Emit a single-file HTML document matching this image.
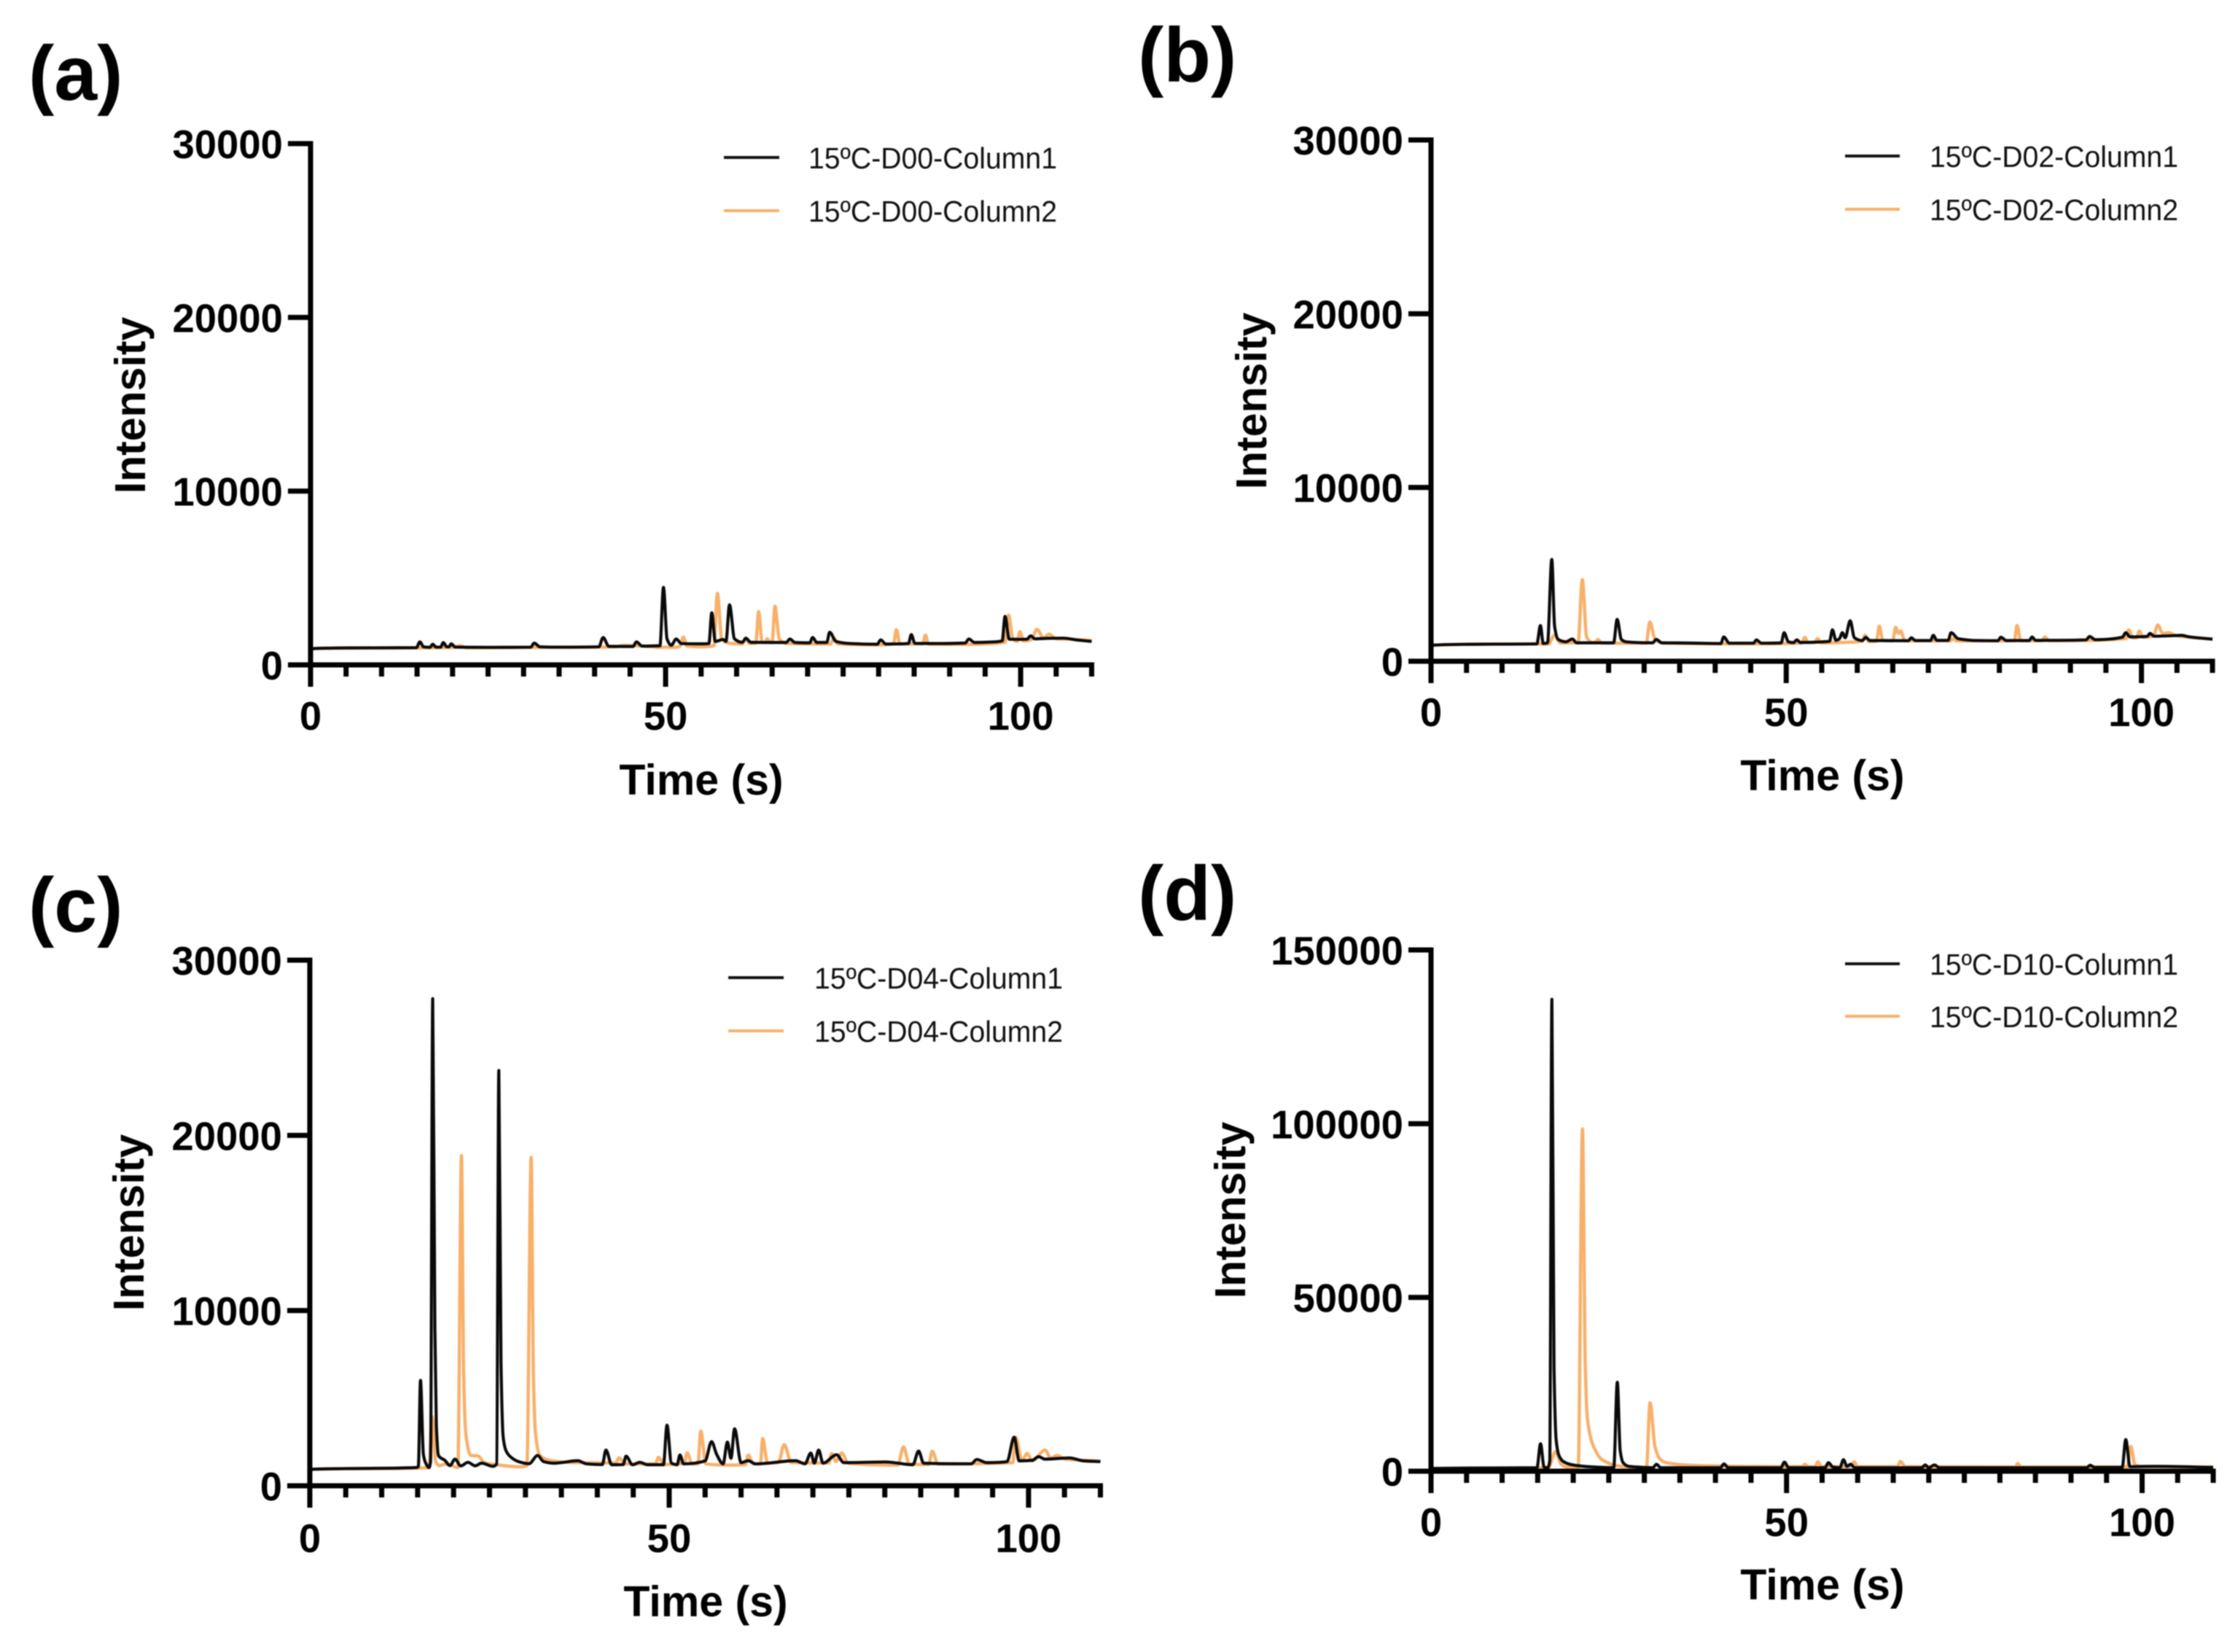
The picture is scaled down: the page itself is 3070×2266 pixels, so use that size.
<!DOCTYPE html>
<html lang="en">
<head>
<meta charset="utf-8">
<title>Chromatograms at 15ºC</title>
<style>
html,body{margin:0;padding:0;background:#fff;width:3070px;height:2266px;overflow:hidden}
svg{display:block;filter:blur(0.7px)}
text{font-family:"Liberation Sans",Arial,sans-serif;fill:#000}
.tick-label{font-size:54.5px;font-weight:700}
.axis-title{font-size:59px;font-weight:700;text-anchor:middle}
.panel-label{font-size:106px;font-weight:700}
.legend-text{font-size:41px;fill:#111}
</style>
</head>
<body>
<svg id="figure" xmlns="http://www.w3.org/2000/svg" width="3070" height="2266" viewBox="0 0 3070 2266">
  <rect width="3070" height="2266" fill="#fff"/>

  <g id="panel-a">
    <text class="panel-label" x="39" y="137">(a)</text>
    <text class="axis-title" transform="translate(199 556) rotate(-90)">Intensity</text>
    <text class="axis-title" x="962" y="1090">Time (s)</text>
    <line x1="993" x2="1069" y1="216" y2="216" stroke="#111" stroke-width="4"/>
    <text class="legend-text" x="1109" y="231" textLength="341" lengthAdjust="spacingAndGlyphs">15ºC-D00-Column1</text>
    <line x1="993" x2="1069" y1="289" y2="289" stroke="#f8b06a" stroke-width="4"/>
    <text class="legend-text" x="1109" y="304" textLength="341" lengthAdjust="spacingAndGlyphs">15ºC-D00-Column2</text>
  </g>

  <g id="panel-b">
    <text class="panel-label" x="1561" y="112">(b)</text>
    <text class="axis-title" transform="translate(1737 550) rotate(-90)">Intensity</text>
    <text class="axis-title" x="2500" y="1084">Time (s)</text>
    <line x1="2531" x2="2606" y1="214" y2="214" stroke="#111" stroke-width="4"/>
    <text class="legend-text" x="2647" y="229" textLength="341" lengthAdjust="spacingAndGlyphs">15ºC-D02-Column1</text>
    <line x1="2531" x2="2606" y1="287" y2="287" stroke="#f8b06a" stroke-width="4"/>
    <text class="legend-text" x="2647" y="302" textLength="341" lengthAdjust="spacingAndGlyphs">15ºC-D02-Column2</text>
  </g>

  <g id="panel-c">
    <text class="panel-label" x="39" y="1278">(c)</text>
    <text class="axis-title" transform="translate(197 1677) rotate(-90)">Intensity</text>
    <text class="axis-title" x="968" y="2217">Time (s)</text>
    <line x1="999" x2="1075" y1="1341" y2="1341" stroke="#111" stroke-width="4"/>
    <text class="legend-text" x="1117" y="1356" textLength="341" lengthAdjust="spacingAndGlyphs">15ºC-D04-Column1</text>
    <line x1="999" x2="1075" y1="1414" y2="1414" stroke="#f8b06a" stroke-width="4"/>
    <text class="legend-text" x="1117" y="1429" textLength="341" lengthAdjust="spacingAndGlyphs">15ºC-D04-Column2</text>
  </g>

  <g id="panel-d">
    <text class="panel-label" x="1561" y="1262">(d)</text>
    <text class="axis-title" transform="translate(1708 1660) rotate(-90)">Intensity</text>
    <text class="axis-title" x="2500" y="2194">Time (s)</text>
    <line x1="2531" x2="2606" y1="1322" y2="1322" stroke="#111" stroke-width="4"/>
    <text class="legend-text" x="2647" y="1337" textLength="341" lengthAdjust="spacingAndGlyphs">15ºC-D10-Column1</text>
    <line x1="2531" x2="2606" y1="1394" y2="1394" stroke="#f8b06a" stroke-width="4"/>
    <text class="legend-text" x="2647" y="1409" textLength="341" lengthAdjust="spacingAndGlyphs">15ºC-D10-Column2</text>
  </g>
</svg>

<script>
// Tick values and labels
const xMajorTicks = [0, 50, 100];
const xMinorTicks = [5, 10, 15, 20, 25, 30, 35, 40, 45, 55, 60, 65, 70, 75, 80, 85, 90, 95, 105, 110];
const yTicksLow = [0, 10000, 20000, 30000];
const yTicksHigh = [0, 50000, 100000, 150000];

// Panel (a) D00
const aCol1Time = [0,0.5,5,14.9,15.4,15.9,16.8,17.2,17.7,18.3,18.7,19.2,19.5,19.8,20.4,25,31,31.5,32.3,35,40.6,41.2,42,45.4,45.9,46.7,49.2,49.7,50.2,50.8,51.5,52.2,55,56.1,56.5,57,58.1,58.5,59,59.7,60.8,61.3,62,65,67,67.5,68.2,70.3,70.7,71.3,72.7,73.1,74,76,79.8,80.3,81,84.2,84.6,85.1,88,92.2,92.7,93.5,96,97.4,97.8,98.4,100,100.9,101.4,102,104,106,108,110];
const aCol1Value = [900,940,975,990,1325,1040,1010,1185,1020,1020,1280,1040,1040,1210,1020,1010,1020,1255,1040,1020,1040,1575,1070,1060,1325,1080,1100,4460,1500,1130,1490,1230,1210,1230,3000,1350,1460,1350,3460,1500,1300,1530,1300,1290,1290,1490,1290,1270,1575,1290,1290,1880,1350,1230,1190,1440,1200,1230,1740,1240,1230,1260,1490,1290,1320,1380,2790,1480,1470,1480,1670,1500,1530,1540,1430,1350];
const aCol2Time = [0,0.5,20,21,22,30,40,43,44,48,49,50,51,52,52.5,53,55,56.8,57.3,57.9,59,60.8,61.3,61.8,62.7,63.1,63.6,64,64.3,64.8,65,65.4,66,67,73.2,73.7,74.3,80,82.1,82.5,83,86.2,86.6,87,92,97.8,98.3,98.9,99.5,99.9,100.4,101.5,102.3,103.2,104,105,107,110];
const aCol2Value = [900,940,1000,1100,980,1000,1020,1040,1120,1050,1000,1020,1000,1060,1600,1090,1040,1100,4110,1500,1250,1200,1550,1230,1250,3070,1300,1300,1500,1280,1300,3375,1500,1230,1200,1530,1200,1150,1220,2020,1200,1200,1715,1190,1180,1300,2860,1500,1350,1910,1380,1450,2050,1550,1770,1500,1480,1400];

// Panel (b) D02
const bCol1Time = [0,0.5,5,14.9,15.4,15.8,16.4,17,17.4,17.9,19,19.9,20.5,25.7,26.2,26.8,27.5,31.2,31.7,32.5,36,40.8,41.2,42,45.4,45.8,46.5,49.3,49.7,50.3,51,51.5,52,55,56.1,56.5,57,57.5,57.9,58.3,59,59.6,60.7,61.2,61.8,67.2,67.6,68.2,70.3,70.7,71.2,72.8,73.2,74.2,77,79.8,80.2,81,84.2,84.6,85.1,92.2,92.7,93.5,97.3,97.8,98.4,100.8,101.2,101.8,104,105.7,106.5,110];
const bCol1Value = [880,930,975,1000,2050,1020,1060,5860,2000,1255,1120,1280,1060,1060,2410,1250,1115,1060,1255,1060,1050,1020,1395,1040,1040,1230,1040,1060,1645,1120,1070,1230,1080,1115,1150,1810,1200,1300,1645,1350,2330,1350,1190,1370,1190,1180,1350,1190,1190,1490,1200,1200,1645,1300,1190,1180,1380,1190,1190,1395,1200,1230,1420,1240,1380,1645,1400,1430,1600,1440,1465,1490,1420,1270];
const bCol2Time = [0,0.5,15,16.5,17.4,18.2,19,20.7,21.3,21.9,22.7,23.1,23.5,24,28,30.3,30.8,31.5,32.5,45,52.2,52.6,53.1,54,54.4,54.9,60.7,61.1,61.6,62.7,63.1,63.6,65,65.4,65.8,66.1,66.7,73.1,73.5,74,82.1,82.5,83,86,86.4,87,97.8,98.2,98.8,99.3,99.7,100.2,101.7,102.3,103,103.9,104.8,110];
const bCol2Value = [880,930,1000,980,1500,1050,1060,1060,4700,1400,1080,1080,1255,1050,1040,1040,2260,1300,1050,1000,1050,1370,1070,1070,1300,1060,1150,1500,1130,1150,2020,1200,1170,1950,1600,1740,1180,1170,1300,1170,1180,2050,1180,1180,1395,1180,1300,1810,1350,1350,1740,1380,1450,2090,1600,1645,1480,1280];

// Panel (c) D04
const cCol1Time = [0,0.3,5,14.8,15.1,15.4,15.8,16.1,16.6,16.8,17.1,17.4,17.6,17.9,18.8,19.5,20.2,21,22,23,23.9,25.5,26,26.3,26.6,26.9,27.3,27.9,29,30.5,31.7,32.5,34,37.3,38.5,40.7,41.2,42,43.6,44,44.9,45.9,47,49.2,49.7,50.3,51.1,51.5,52,55,55.9,56.6,57.5,58.1,58.6,59.1,60,61,62,67.6,68.9,69.7,70.2,70.8,71.4,73.3,74.3,80.1,83.9,84.7,85.4,92,92.8,94.2,97,98,98.7,100.5,101.4,102.3,105.7,107.7,110];
const cCol1Value = [900,940,980,1040,1100,6020,1800,1315,1040,1400,27800,9000,3500,1730,1450,1150,1520,1135,1340,1140,1290,1110,1250,23700,7000,2800,2000,1660,1385,1260,1730,1385,1290,1430,1250,1210,2040,1200,1210,1690,1200,1340,1200,1200,3460,1300,1200,1760,1250,1420,2520,1800,1250,2490,1570,3250,1320,1430,1250,1430,1250,1870,1290,2040,1290,1770,1320,1360,1200,1980,1290,1250,1500,1320,1375,2770,1420,1450,1660,1520,1590,1420,1380];
const cCol2Time = [0,0.3,16.6,17,17.5,18,19,20.6,21.1,21.4,21.7,22.4,23.4,24.3,26,29.3,30.2,30.8,31.1,31.4,32,33.7,36.7,42.6,43,43.9,48.1,48.5,49.3,52.1,52.5,53.2,54,54.4,55.1,58,60.6,61,61.7,62.7,63,63.7,65.2,66,67,72.2,72.6,73.2,74,74.9,81.8,82.6,83.4,86.1,86.6,87.4,97.8,98.2,99.1,99.8,100.5,102.3,103.1,104,105.1,110];
const cCol2Value = [900,940,1030,3950,1400,1150,1250,1040,18850,6500,3000,1730,1700,1320,1200,1080,1150,18750,6500,3000,1730,1430,1320,1300,1590,1250,1250,1620,1210,1300,1870,1250,1250,3120,1250,1180,1200,1760,1250,1250,2700,1290,1320,2350,1320,1300,1840,1390,1870,1290,1180,2220,1250,1210,1970,1250,1320,2770,1450,1840,1430,2040,1590,1730,1520,1420];

// Panel (d) D10
const dCol1Time = [0,5,14.9,15.4,15.9,16.4,16.7,17,17.3,17.6,18,18.6,19.5,21,24,25.7,26.2,26.6,27,27.8,29,31.2,31.7,32.3,40.7,41.2,41.8,49.2,49.7,50.3,55.4,55.9,56.5,57.5,58,58.5,59,59.6,69,69.5,70,70.8,71.5,92.2,92.7,93.3,97.2,97.7,98.3,102,110];
const dCol1Value = [800,900,1000,7900,1200,1000,3000,135800,30000,9000,4500,2800,2000,1500,1100,1000,25600,6000,2500,1400,1200,1000,2000,1000,1000,2100,1000,1000,2600,1000,1000,2450,1200,1000,3300,1400,2000,1000,1000,1800,1000,1800,1000,1000,1700,1100,1100,9100,1300,1400,1100];
const dCol2Time = [0,16.5,17.5,18.3,19,20.7,21.3,21.7,22,23,24,25,26,30.3,30.8,31.5,32.2,33,35,38,50,52.2,52.6,53,54,54.4,54.9,59,59.5,60,65.6,66,66.7,82.2,82.5,83,97.9,98.4,99,100,110];
const dCol2Value = [800,1000,5600,2000,1200,1000,98500,30000,15000,6500,3400,2300,1600,1000,19700,7000,3500,2500,1900,1600,1300,1300,2000,1300,1300,2700,1300,1300,2700,1300,1300,2800,1300,1200,2200,1200,1200,7100,1800,1400,1200];

const svgNS = 'http://www.w3.org/2000/svg';

function makeEl(tag, attrs, parent) {
  const el = document.createElementNS(svgNS, tag);
  for (const key in attrs) el.setAttribute(key, attrs[key]);
  parent.appendChild(el);
  return el;
}

// Monotone cubic path through the projected data points (rounded peak tops, no overshoot)
function monotonePath(xs, ys) {
  const n = xs.length;
  const h = [], s = [], m = [];
  for (let i = 0; i < n - 1; i++) {
    h.push(xs[i + 1] - xs[i]);
    s.push((ys[i + 1] - ys[i]) / h[i]);
  }
  m.push(s[0]);
  for (let i = 1; i < n - 1; i++) {
    if (s[i - 1] * s[i] <= 0) {
      m.push(0);
    } else {
      m.push(3 * (h[i - 1] + h[i]) / ((2 * h[i] + h[i - 1]) / s[i - 1] + (h[i] + 2 * h[i - 1]) / s[i]));
    }
  }
  m.push(s[n - 2]);
  let d = 'M' + xs[0].toFixed(2) + ' ' + ys[0].toFixed(2);
  for (let i = 0; i < n - 1; i++) {
    const third = h[i] / 3;
    d += 'C' + (xs[i] + third).toFixed(2) + ' ' + (ys[i] + m[i] * third).toFixed(2) + ' ' +
         (xs[i + 1] - third).toFixed(2) + ' ' + (ys[i + 1] - m[i + 1] * third).toFixed(2) + ' ' +
         xs[i + 1].toFixed(2) + ' ' + ys[i + 1].toFixed(2);
  }
  return d;
}

function drawPanel(cfg) {
  const root = document.getElementById(cfg.id);
  const xScale = function (t) { return cfg.x0 + (t / 110) * (cfg.x110 - cfg.x0); };
  const yScale = function (v) { return cfg.y0 - (v / cfg.yMax) * (cfg.y0 - cfg.yTop); };

  const seriesList = [
    { times: cfg.col2Time, values: cfg.col2Value, color: '#f8b06a', width: 4.5, name: 'series-column2' },
    { times: cfg.col1Time, values: cfg.col1Value, color: '#0a0a0a', width: 4.2, name: 'series-column1' }
  ];
  seriesList.forEach(function (s) {
    const d = monotonePath(s.times.map(xScale), s.values.map(yScale));
    const line = makeEl('path', { d: d, fill: 'none', stroke: s.color, 'stroke-width': s.width, 'stroke-linejoin': 'round' }, root);
    
    
  });

  const yAxis = makeEl('line', { x1: cfg.x0, x2: cfg.x0, y1: cfg.yTop - 3.5, y2: cfg.y0 + 30, stroke: '#000', 'stroke-width': 7 }, root);
  
  

  const xAxis = makeEl('line', { x1: cfg.x0 - 31, x2: xScale(110) + 3.5, y1: cfg.y0, y2: cfg.y0, stroke: '#000', 'stroke-width': 7 }, root);
  
  

  cfg.yTicks.forEach(function (v) {
    const tick = makeEl('line', { x1: cfg.x0 - 31, x2: cfg.x0, y1: yScale(v), y2: yScale(v), stroke: '#000', 'stroke-width': 7 }, root);
    
    
    const label = makeEl('text', { x: cfg.x0 - 38, y: yScale(v) + 20, 'text-anchor': 'end', class: 'tick-label' }, root);
    label.textContent = String(v);
    
    
  });

  xMinorTicks.forEach(function (t) {
    const tick = makeEl('line', { x1: xScale(t), x2: xScale(t), y1: cfg.y0, y2: cfg.y0 + 16, stroke: '#000', 'stroke-width': 7 }, root);
    
    
  });

  xMajorTicks.forEach(function (t) {
    const tick = makeEl('line', { x1: xScale(t), x2: xScale(t), y1: cfg.y0, y2: cfg.y0 + 30, stroke: '#000', 'stroke-width': 7 }, root);
    
    
    const label = makeEl('text', { x: xScale(t), y: cfg.y0 + cfg.labelGap, 'text-anchor': 'middle', class: 'tick-label' }, root);
    label.textContent = String(t);
    
    
  });
}

drawPanel({ id: 'panel-a', x0: 426, x110: 1497.5, y0: 912, yTop: 197, yMax: 30000, labelGap: 89, yTicks: yTicksLow, col1Time: aCol1Time, col1Value: aCol1Value, col2Time: aCol2Time, col2Value: aCol2Value });
drawPanel({ id: 'panel-b', x0: 1963, x110: 3035, y0: 907, yTop: 192, yMax: 30000, labelGap: 89, yTicks: yTicksLow, col1Time: bCol1Time, col1Value: bCol1Value, col2Time: bCol2Time, col2Value: bCol2Value });
drawPanel({ id: 'panel-c', x0: 425, x110: 1509.5, y0: 2038, yTop: 1317, yMax: 30000, labelGap: 91, yTicks: yTicksLow, col1Time: cCol1Time, col1Value: cCol1Value, col2Time: cCol2Time, col2Value: cCol2Value });
drawPanel({ id: 'panel-d', x0: 1963, x110: 3036, y0: 2018, yTop: 1303, yMax: 150000, labelGap: 89, yTicks: yTicksHigh, col1Time: dCol1Time, col1Value: dCol1Value, col2Time: dCol2Time, col2Value: dCol2Value });
</script>
</body>
</html>
